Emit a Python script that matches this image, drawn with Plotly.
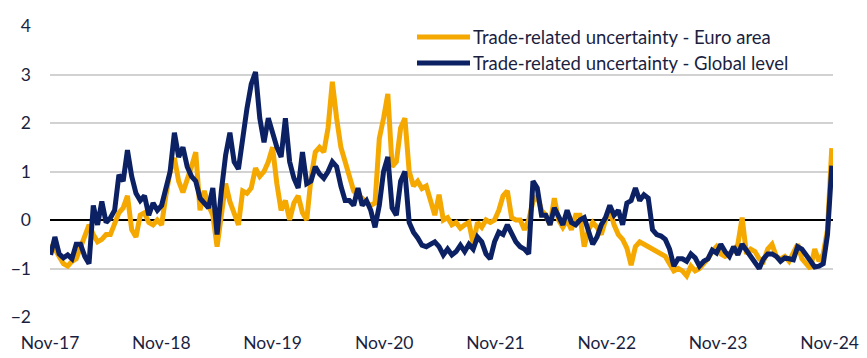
import pandas as pd
import plotly.graph_objects as go

start_date = "2017-11-03"
step = "14D"

euro_area = [
    -0.5, -0.6, -0.75, -0.9, -0.95, -0.85, -0.8, -0.55, -0.3, -0.1,
    -0.3, -0.45, -0.4, -0.3, -0.3, -0.1, 0.15, 0.25, 0.5, -0.2,
    -0.35, 0.1, 0.15, -0.05, -0.1, 0.0, -0.1, 0.5, 1.0, 1.28,
    0.8, 0.57, 0.8, 1.1, 1.4, 0.2, 0.6, 0.3, 0.1, -0.55,
    0.1, 0.75, 0.38, 0.1, -0.1, 0.6, 0.55, 0.66, 1.07, 0.9,
    1.0, 1.2, 1.5, 0.75, 0.2, 0.4, 0.0, 0.35, 0.5, 0.15,
    0.0, 0.86, 1.4, 1.5, 1.4, 1.9, 2.85, 2.1, 1.5, 1.2,
    0.86, 0.6, 0.5, 0.45, 0.35, 0.3, 0.35, 1.68, 2.1, 2.6,
    1.1, 1.2, 1.9, 2.1, 1.0, 0.7, 0.8, 0.65, 0.7, 0.38,
    0.1, 0.52, 0.0, 0.05, -0.1, -0.05, -0.17, -0.1, -0.05, -0.5,
    -0.05, -0.15, 0.0, -0.05, 0.0, 0.2, 0.5, 0.6, 0.05, 0.0,
    0.0, -0.2, 0.0, 0.38, 0.5, 0.2, 0.1, -0.1, 0.45, 0.0,
    -0.15, 0.0, -0.2, 0.1, 0.1, -0.55, -0.2, -0.05, -0.15, -0.3,
    0.0, 0.2, -0.1, -0.3, -0.4, -0.58, -0.93, -0.55, -0.45, -0.5,
    -0.55, -0.6, -0.65, -0.7, -0.75, -0.9, -1.05, -1.0, -1.05, -1.15,
    -0.95, -1.05, -1.0, -0.9, -0.8, -0.65, -0.55, -0.7, -0.75, -0.7,
    -0.65, -0.5, 0.05, -0.7, -0.6, -0.65, -0.8, -0.85, -0.6, -0.5,
    -0.75, -0.8, -0.75, -0.85, -0.7, -0.5, -0.8, -0.9, -1.0, -0.6,
    -0.85, -0.7, -0.2, 1.48,
]

global_level = [
    -0.72, -0.35, -0.7, -0.78, -0.72, -0.8, -0.5, -0.5, -0.75, -0.9,
    0.3, -0.1, 0.38, -0.05, 0.04, 0.2, 0.93, 0.8, 1.44, 0.9,
    0.55, 0.4, 0.5, 0.1, 0.35, 0.2, 0.3, 0.66, 1.0, 1.8,
    1.3, 1.5, 1.1, 0.9, 0.8, 0.45, 0.35, 0.25, 0.66, -0.3,
    0.6, 1.34, 1.8, 1.2, 1.05, 1.7, 2.3, 2.8, 3.05, 2.1,
    1.6, 2.1, 1.8, 1.5, 1.3, 2.1, 1.2, 0.86, 0.66, 1.4,
    0.75, 0.8, 1.1, 0.95, 0.86, 1.0, 1.2, 1.1, 0.7, 0.4,
    0.4, 0.3, 0.66, 0.3, 0.4, 0.2, -0.15, 0.3, 1.0, 1.3,
    0.25, 0.1, 0.8, 1.0, -0.05, -0.25, -0.37, -0.52, -0.55, -0.5,
    -0.45, -0.55, -0.72, -0.6, -0.72, -0.65, -0.52, -0.65, -0.5, -0.6,
    -0.35, -0.45, -0.7, -0.8, -0.45, -0.25, -0.3, -0.1, -0.3, -0.45,
    -0.55, -0.6, -0.7, 0.8, 0.66, 0.1, 0.1, -0.1, 0.25, 0.05,
    -0.1, 0.2, -0.05, -0.1, 0.0, 0.05, -0.25, -0.5, -0.35, -0.1,
    0.05, 0.3, 0.1, 0.2, -0.1, 0.35, 0.4, 0.66, 0.4, 0.52,
    0.45, -0.2, -0.3, -0.33, -0.4, -0.6, -0.95, -0.8, -0.8, -0.85,
    -0.7, -0.78, -0.95, -0.85, -0.8, -0.62, -0.68, -0.5, -0.65, -0.75,
    -0.55, -0.72, -0.5, -0.62, -0.75, -0.85, -1.0, -0.8, -0.7, -0.7,
    -0.75, -0.85, -0.78, -0.8, -0.82, -0.55, -0.6, -0.72, -0.85, -0.97,
    -0.95, -0.9, -0.3, 1.12,
]

series_names = [
    "Trade-related uncertainty - Euro area",
    "Trade-related uncertainty - Global level",
]
series_colors = ["#F4A800", "#0B2163"]

y_ticks = [-2, -1, 0, 1, 2, 3, 4]
x_range = ["2017-11-01", "2024-11-12"]

assert len(euro_area) == len(global_level)
dates = pd.date_range(start_date, periods=len(euro_area), freq=step)

TEXT = "#1b1f3f"
FONT = "Lato"

fig = go.Figure()
for name, vals, col in zip(series_names, [euro_area, global_level], series_colors):
    fig.add_trace(go.Scatter(
        x=dates, y=vals, mode="lines", name=name,
        line=dict(color=col, width=5), showlegend=False,
    ))

# legend drawn as paper-positioned key lines + text (two rows, top right)
legend_rows_y = [0.9622, 0.8729]
key_x0, key_x1, text_x = 0.4687, 0.5364, 0.5372
for name, col, ly in zip(series_names, series_colors, legend_rows_y):
    fig.add_shape(type="line", xref="paper", yref="paper",
                  x0=key_x0, x1=key_x1, y0=ly, y1=ly,
                  line=dict(color=col, width=5))
    fig.add_annotation(xref="paper", yref="paper", x=text_x, y=ly,
                       text=name, showarrow=False, xanchor="left",
                       yanchor="middle",
                       font=dict(family=FONT, size=18.5, color=TEXT))

# the page adds an 8px body margin, so margins are shifted to compensate
fig.update_layout(
    width=867, height=358,
    margin=dict(l=42, r=42, t=18, b=49),
    paper_bgcolor="white", plot_bgcolor="white",
    font=dict(family=FONT, size=17.5, color=TEXT),
    showlegend=False,
)
fig.update_xaxes(
    type="date", range=x_range,
    tickformat="%b-%y", dtick="M12", tick0="2017-11-01",
    showgrid=False, zeroline=False, showline=False, ticks="",
    ticklabelstandoff=13, automargin=False,
    tickfont=dict(family=FONT, size=17.5, color=TEXT),
)
fig.update_yaxes(
    range=[-2, 4], tickvals=y_ticks,
    showgrid=True, gridcolor="#D2D2D2", gridwidth=2,
    zeroline=True, zerolinecolor="black", zerolinewidth=2,
    showline=False, ticks="", ticklabelstandoff=18, automargin=False,
    tickfont=dict(family=FONT, size=17.5, color=TEXT),
)

fig.write_html("out.html")
